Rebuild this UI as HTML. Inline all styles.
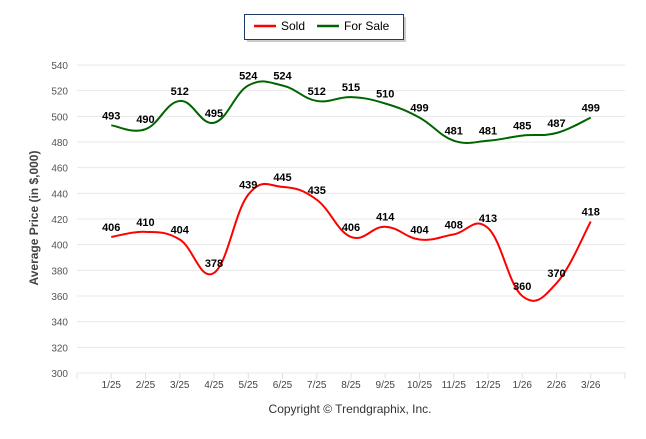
<!DOCTYPE html>
<html><head><meta charset="utf-8"><style>
body{margin:0;background:#fff;width:646px;height:434px;overflow:hidden;font-family:"Liberation Sans",Arial,sans-serif}
</style></head><body>
<svg id="chart" width="646" height="434" xmlns="http://www.w3.org/2000/svg">
<g>
<rect x="247" y="17" width="159" height="25" fill="#999" opacity="0.5"/>
<rect x="244.5" y="14.5" width="159" height="25" fill="#fff" stroke="#1f3864" stroke-width="1"/>
<line x1="254" y1="26" x2="276" y2="26" stroke="#ff0000" stroke-width="2.5"/>
<text x="281" y="30" font-size="12" fill="#000">Sold</text>
<line x1="317" y1="26" x2="339" y2="26" stroke="#006400" stroke-width="2.5"/>
<text x="344" y="30" font-size="12" fill="#000">For Sale</text>
</g>
<g id="grid"></g><g id="axes"></g><g id="series"></g>
<text x="38" y="218" font-size="12" font-weight="bold" fill="#444" text-anchor="middle" transform="rotate(-90 38 218)">Average Price (in $,000)</text>
<text x="350" y="413" font-size="12" fill="#333" text-anchor="middle">Copyright © Trendgraphix, Inc.</text>
</svg>
<script>
const categories=["1/25","2/25","3/25","4/25","5/25","6/25","7/25","8/25","9/25","10/25","11/25","12/25","1/26","2/26","3/26"];
const soldValues=[406,410,404,378,439,445,435,406,414,404,408,413,360,370,418];
const forSaleValues=[493,490,512,495,524,524,512,515,510,499,481,481,485,487,499];
const yTicks=[300,320,340,360,380,400,420,440,460,480,500,520,540];
const NS="http://www.w3.org/2000/svg";
const X0=77,X1=625,Y0=373,Y1=65,YMIN=300,YMAX=540;
const band=(X1-X0)/(categories.length+1);
function xs(i){return X0+band*(i+1);}
function ys(v){return Y0-(v-YMIN)/(YMAX-YMIN)*(Y0-Y1);}
function mk(t,a,p){const e=document.createElementNS(NS,t);for(const k in a)e.setAttribute(k,a[k]);p.appendChild(e);return e;}
const grid=document.getElementById('grid'),axes=document.getElementById('axes'),ser=document.getElementById('series');
yTicks.forEach(v=>{
 const l=mk('line',{x1:X0,x2:X1,y1:ys(v),y2:ys(v),stroke:'#e8e8e8','stroke-width':1},grid);
 
 
 const t=mk('text',{x:68,y:ys(v)+4,'font-size':10,fill:'#555','text-anchor':'end'},axes);
 t.textContent=v;
 
 
});
for(let i=0;i<=categories.length+1;i++){
 const x=X0+band*i;
 mk('line',{x1:x,x2:x,y1:Y0,y2:Y0+6,stroke:'#e0e0e0'},axes);
}
categories.forEach((c,i)=>{
 const t=mk('text',{x:xs(i),y:388,'font-size':10,fill:'#444','text-anchor':'middle'},axes);
 t.textContent=c;
 
 
});
function path(vals){
 const p=vals.map((v,i)=>[xs(i),ys(v)]);
 let d='M'+p[0][0]+','+p[0][1];
 for(let i=0;i<p.length-1;i++){
  const a=p[Math.max(i-1,0)],b=p[i],c=p[i+1],e=p[Math.min(i+2,p.length-1)];
  const k=0.2;
  d+=' C'+(b[0]+(c[0]-a[0])*k)+','+(b[1]+(c[1]-a[1])*k)+' '+(c[0]-(e[0]-b[0])*k)+','+(c[1]-(e[1]-b[1])*k)+' '+c[0]+','+c[1];
 }
 return d;
}
function draw(vals,color,name){
 const pa=mk('path',{d:path(vals),fill:'none',stroke:color,'stroke-width':2},ser);
 
 
 vals.forEach((v,i)=>{
  const t=mk('text',{x:xs(i),y:ys(v)-6,'font-size':11,'font-weight':'bold',fill:'#000','text-anchor':'middle'},ser);
  t.textContent=v;
  
  
 });
}
draw(forSaleValues,'#006400','for-sale');
draw(soldValues,'#ff0000','sold');
</script>
</body></html>
